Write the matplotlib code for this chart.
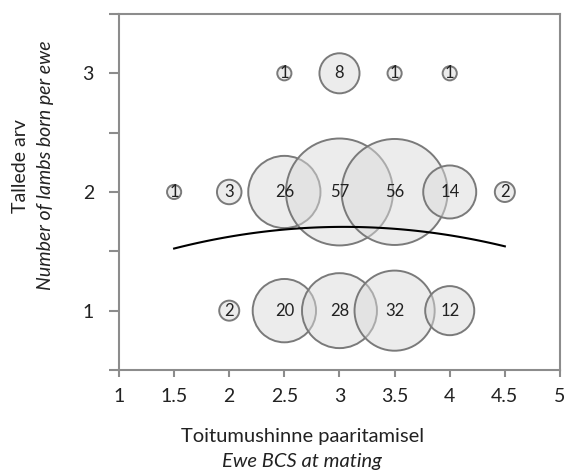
import numpy as np
import matplotlib
matplotlib.use("Agg")
import matplotlib.pyplot as plt

####################
# Data
####################

# bubble centres (BCS at mating, lambs born) and number of ewes
bcs = [2.5, 3.0, 3.5, 4.0,
       1.5, 2.0, 2.5, 3.0, 3.5, 4.0, 4.5,
       2.0, 2.5, 3.0, 3.5, 4.0]
lambs = [3, 3, 3, 3,
         2, 2, 2, 2, 2, 2, 2,
         1, 1, 1, 1, 1]
ewes = [1, 8, 1, 1,
        1, 3, 26, 57, 56, 14, 2,
        2, 20, 28, 32, 12]

x_ticks = [1, 1.5, 2, 2.5, 3, 3.5, 4, 4.5, 5]
y_ticks = [0.5, 1, 1.5, 2, 2.5, 3, 3.5]
y_ticklabels = ["", "1", "", "2", "", "3", ""]

####################
# Plot
####################

plt.rcParams['font.family'] = ['Lato', 'DejaVu Sans']

fig = plt.figure(figsize=(5.65, 4.7), dpi=100)
ax = fig.add_axes([0.2106, 0.2128, 0.7805, 0.7575])

# area ~ number of ewes
sizes = [104 * n for n in ewes]
ax.scatter(bcs, lambs, s=sizes, facecolor=(0.86, 0.86, 0.86, 0.5),
           edgecolor='#7a7a7a', linewidth=1.4, zorder=2)

for x, y, n in zip(bcs, lambs, ewes):
    ax.text(x, y, str(n), ha='center', va='center', fontsize=12,
            color='#222222', zorder=3)

# quadratic trend fitted on the individual ewes
coef = np.polyfit(bcs, lambs, 2, w=np.sqrt(ewes))
xs = np.linspace(1.5, 4.5, 100)
ax.plot(xs, np.polyval(coef, xs), color='black', linewidth=1.5, zorder=4)

ax.set_xlim(1, 5)
ax.set_ylim(0.5, 3.5)
ax.set_xticks(x_ticks)
ax.set_xticklabels([("%g" % t) for t in x_ticks])
ax.set_yticks(y_ticks)
ax.set_yticklabels(y_ticklabels)

for sp in ax.spines.values():
    sp.set_color('#8c8c8c')
    sp.set_linewidth(1.5)
ax.tick_params(direction='out', width=1.5, color='#8c8c8c',
               labelsize=14, labelcolor='#222222')
ax.tick_params(axis='x', length=5, pad=8)
ax.tick_params(axis='y', length=7, pad=11)

# two-line axis titles (Estonian / English)
fig.text(0.036, 0.647, "Tallede arv", rotation=90, ha='center', va='center',
         fontsize=14, color='#222222')
fig.text(0.08, 0.649, "Number of lambs born per ewe", rotation=90,
         ha='center', va='center', fontsize=14, style='italic', color='#222222')
fig.text(0.535, 0.071, "Toitumushinne paaritamisel", ha='center', va='center',
         fontsize=14.5, color='#222222')
fig.text(0.535, 0.018, "Ewe BCS at mating", ha='center', va='center',
         fontsize=14.5, style='italic', color='#222222')

fig.savefig("out.png", dpi=100)
